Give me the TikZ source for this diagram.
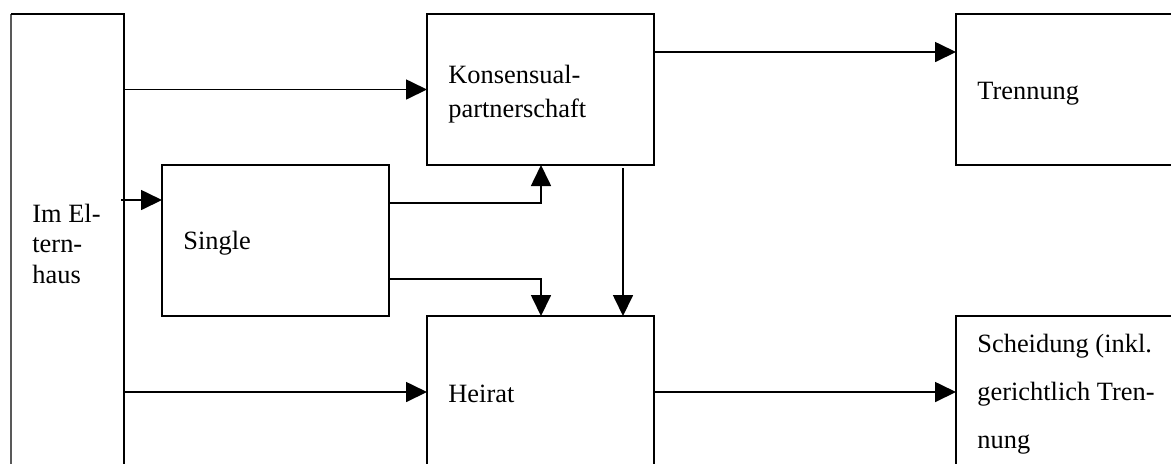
\documentclass[tikz,border=0pt]{standalone}
\usepackage{fontspec}
\setmainfont{Liberation Serif}
\usetikzlibrary{arrows.meta}
\begin{document}
\begin{tikzpicture}[x=0.5pt,y=-0.5pt,
  box/.style={draw=black,line width=0.85pt,rectangle,inner sep=0pt,outer sep=0pt,anchor=north west},
  openbox/.style={box,draw=none},
  edge/.style={line width=0.85pt},
  arr/.style={line width=0.85pt,-{Triangle[length=10.5pt,width=10pt]}},
  txt/.style={anchor=base west,inner sep=0pt,font=\fontsize{13.2}{15.6}\selectfont}]
\useasboundingbox (0,0) rectangle (1171,463);
\clip (0,0) rectangle (1171,463);
% boxes
\node[openbox,minimum width=56.5pt,minimum height=230pt] (eltern) at (11,14) {};
\draw[edge,gray!70!black] (eltern.south west) -- (eltern.north west);
\draw[edge] (eltern.north west) -- (eltern.north east) -- (eltern.south east);
\node[box,minimum width=113.5pt,minimum height=75.5pt] (kons) at (427,14) {};
\node[openbox,minimum width=120pt,minimum height=75.5pt] (trenn) at (956,14) {};
\draw[edge] (trenn.north east) -- (trenn.north west) -- (trenn.south west) -- (trenn.south east);
\node[box,minimum width=113.5pt,minimum height=75.5pt] (single) at (162,165) {};
\node[openbox,minimum width=113.5pt,minimum height=76pt] (heirat) at (427,316) {};
\draw[edge] (heirat.south west) -- (heirat.north west) -- (heirat.north east) -- (heirat.south east);
\node[openbox,minimum width=120pt,minimum height=76pt] (scheid) at (956,316) {};
\draw[edge] (scheid.north east) -- (scheid.north west) -- (scheid.south west);
% texts
\node[txt] (t1) at (32,222) {Im El-};
\node[txt] (t2) at (32,252) {tern-};
\node[txt] (t3) at (32,283) {haus};
\node[txt] (t4) at (183,249) {Single};
\node[txt] (t5) at (448,83) {Konsensual-};
\node[txt] (t6) at (448,117) {partnerschaft};
\node[txt] (t7) at (448,402) {Heirat};
\node[txt] (t8) at (977,99) {Trennung};
\node[txt] (t9) at (977,352) {Scheidung (inkl.};
\node[txt] (t10) at (977,400) {gerichtlich Tren-};
\node[txt] (t11) at (977,448) {nung};
% coordinates
\coordinate (s1) at (121,200);
\coordinate (sk) at (541,203);
\coordinate (sh) at (541,279);
\coordinate (kh) at (623,168);
\coordinate (kt) at (0,52);
% connectors
\draw[arr] (kons.west -| eltern.east) -- (kons.west);
\draw[arr] (heirat.west -| eltern.east) -- (heirat.west);
\draw[arr] (s1) -- (s1 -| single.west);
\draw[arr] (sk -| single.east) -| (kons.south -| sk);
\draw[arr] (sh -| single.east) -| (heirat.north -| sh);
\draw[arr] (kh) -- (kh |- heirat.north);
\draw[arr] (kt -| kons.east) -- (kt -| trenn.west);
\draw[arr] (heirat.east) -- (scheid.west);
\end{tikzpicture}
\end{document}
